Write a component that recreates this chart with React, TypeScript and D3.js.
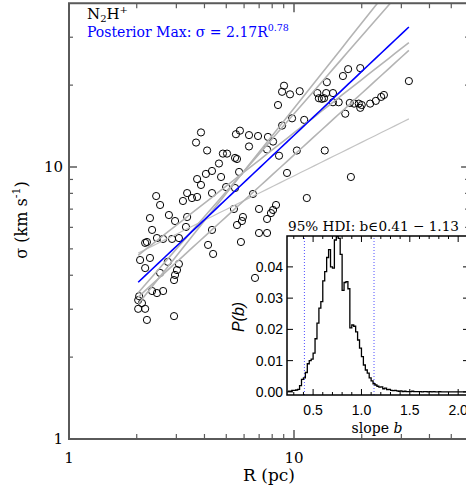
import React from 'react';
import * as d3 from 'd3';

const R_PC = [32.4,19.7,17.4,16.5,14.0,9.03,8.85,9.60,10.6,12.7,13.9,14.9,12.9,13.3,13.6,14.9,15.8,8.49,17.7,18.5,19.4,20.0,19.7,21.8,23.1,24.4,25.1,16.9,9.80,11.1,8.85,5.75,5.52,6.31,6.92,7.66,8.07,6.31,7.59,5.47,5.58,8.58,10.3,13.7,5.70,9.31,17.9,5.47,6.57,11.4,5.41,6.99,8.32,8.07,7.90,5.93,5.87,7.59,5.58,3.86,3.67,4.11,4.83,5.04,4.64,4.32,4.06,3.71,3.86,4.74,4.32,4.99,2.44,3.35,3.71,3.52,3.21,2.54,2.29,2.78,2.96,3.35,2.34,3.31,2.46,2.62,2.87,3.08,2.18,2.22,4.32,5.81,4.15,4.37,2.07,2.29,2.18,2.54,3.08,3.02,2.96,2.93,2.75,2.34,2.46,2.62,2.05,2.03,2.11,2.03,2.18,2.22,2.93,6.71,6.99,7.59];
const SIGMA = [20.7,23.1,22.9,21.6,20.5,19.9,18.9,18.5,19.0,18.7,18.7,18.7,17.9,17.8,17.9,17.3,17.3,16.9,17.2,17.1,17.1,16.9,16.5,17.1,17.5,18.1,18.4,15.7,15.1,14.9,14.2,13.6,13.2,13.1,13.0,12.9,12.4,11.9,11.6,10.8,10.7,11.0,11.5,11.5,9.59,9.51,9.19,8.37,7.96,7.69,7.01,7.01,7.25,6.95,6.77,6.55,6.33,6.44,6.12,13.4,12.3,11.5,11.2,11.2,10.3,9.67,9.43,9.03,8.59,9.19,8.02,8.44,7.82,8.02,7.76,7.69,7.50,7.25,6.49,6.66,6.33,6.55,5.87,6.02,5.48,5.44,5.44,5.48,5.26,5.30,5.87,5.30,5.17,4.79,4.55,4.63,4.25,4.08,4.40,4.18,4.01,3.84,4.48,3.50,3.44,3.50,3.35,3.24,3.16,3.01,3.01,2.74,2.83,3.91,5.72,5.72];

const FIT_A = 2.17;
const FIT_B = 0.78;
const SAMPLE_A = [3.61, 1.95, 1.50, 1.76, 2.99];
const SAMPLE_B = [0.41, 0.754, 1.04, 0.95, 0.65];

const HIST_START = 0.24;
const HIST_WIDTH = 0.02;
const HIST_P = [0.0002,0.0002,0.0005,0.0005,0.0006,0.0008,0.0020,0.0040,0.0045,0.0062,0.0090,0.0100,0.0105,0.0124,0.0170,0.0220,0.0268,0.0289,0.0355,0.0385,0.0430,0.0455,0.0400,0.0396,0.0486,0.0497,0.0491,0.0440,0.0325,0.0350,0.0353,0.0330,0.0205,0.0214,0.0210,0.0192,0.0166,0.0140,0.0113,0.0086,0.0070,0.0060,0.0045,0.0035,0.0026,0.0022,0.0018,0.0015,0.0016,0.0010,0.0012,0.0007,0.0008,0.0005,0.0004,0.0005,0.0003,0.0002,0.0003,0.0001,0.0002,0.0001,0.0001,0.0001,0.0002,0.0001,0.0001,0.0001,0.0001,0.0000,0.0001,0.0001,0.0000,0.0001,0.0000,0.0001,0.0000,0.0000,0.0001,0.0000];
const HDI = [0.41, 1.13];

const X_MAJOR = [1, 10];
const X_MINOR = [2,3,4,5,6,7,8,9,20,30,40,50];
const Y_MAJOR = [1, 10];
const Y_MINOR = [2,3,4,5,6,7,8,9,20,30];
const INSET_X_TICKS = [0.5, 1.0, 1.5, 2.0];
const INSET_Y_TICKS = [0, 0.01, 0.02, 0.03, 0.04];

const SERIF = '"DejaVu Serif", serif';
const SANS = '"Liberation Sans", Arial, sans-serif';

export default function App() {
  const W = 466, H = 491;
  const L = 69, B = 439;
  const x = d3.scaleLog().domain([1, 60]).range([L, L + 225 * Math.log10(60)]);
  const y = d3.scaleLog().domain([1, 40]).range([B, B - 272 * Math.log10(40)]);
  const [x0, x1] = x.range();
  const [y0, y1] = y.range();
  const axisColor = '#5a5a5a';

  const [rMin, rMax] = d3.extent(R_PC) as [number, number];
  const rs = d3.range(0, 41).map(i => rMin * Math.pow(rMax / rMin, i / 40));
  const line = d3.line<[number, number]>().x(d => x(d[0])).y(d => y(d[1]));
  const powerPath = (a: number, b: number) => line(rs.map(r => [r, a * Math.pow(r, b)] as [number, number])) || '';

  // inset
  const iL = 287, iR = 469, iT = 236, iB = 395;
  const xi = d3.scaleLinear().domain([0.23, 0.23 + (iR - iL) / 96.7]).range([iL, iR]);
  const yi = d3.scaleLinear().domain([-0.001, 0.05]).range([iB, iB - 0.051 * 3125]);
  const histPts: [number, number][] = HIST_P.map((p, i) => [HIST_START + i * HIST_WIDTH, p]);
  const histEnd = HIST_START + HIST_P.length * HIST_WIDTH;
  histPts.push([histEnd, 0]);
  histPts.push([xi.domain()[1], 0]);
  const histPath = d3.line<[number, number]>().x(d => xi(d[0])).y(d => yi(d[1])).curve(d3.curveStepAfter)(histPts) || '';
  const insetMinor = d3.range(3, 22).map(v => v / 10).filter(v => INSET_X_TICKS.every(t => Math.abs(t - v) > 1e-6));

  const n = Math.min(R_PC.length, SIGMA.length);

  return (
    <svg width={W} height={H} style={{ position: 'absolute', left: 0, top: 0, background: '#fff' }}>
      <defs>
        <clipPath id="plotClip"><rect x={x0} y={y1} width={x1 - x0} height={y0 - y1} /></clipPath>
      </defs>
      {/* points */}
      <g>
        {d3.range(n).map(i => (
          <circle key={i} cx={x(R_PC[i])} cy={y(SIGMA[i])} r={3.6} fill="none" stroke="#000" strokeWidth={1} />
        ))}
      </g>
      {/* sample lines */}
      <g clipPath="url(#plotClip)">
        {SAMPLE_A.map((a, i) => (
          <path key={i} d={powerPath(a, SAMPLE_B[i])} fill="none" stroke={i === 0 ? '#c4c4c4' : '#b4b4b4'} strokeWidth={i === 0 ? 1.2 : 1.6} />
        ))}
        <path d={powerPath(FIT_A, FIT_B)} fill="none" stroke="#0000ff" strokeWidth={1.6} />
      </g>
      {/* main frame */}
      <g stroke={axisColor} fill="none">
        <rect x={x0} y={y1} width={x1 - x0} height={y0 - y1} strokeWidth={2} />
        {X_MAJOR.map(v => (
          <g key={'xm' + v} strokeWidth={1.5}>
            <line x1={x(v)} x2={x(v)} y1={y0} y2={y0 - 9} />
            <line x1={x(v)} x2={x(v)} y1={y1} y2={y1 + 9} />
          </g>
        ))}
        {X_MINOR.map(v => (
          <g key={'xn' + v} strokeWidth={1.2}>
            <line x1={x(v)} x2={x(v)} y1={y0} y2={y0 - 5} />
            <line x1={x(v)} x2={x(v)} y1={y1} y2={y1 + 5} />
          </g>
        ))}
        {Y_MAJOR.map(v => (
          <g key={'ym' + v} strokeWidth={1.5}>
            <line x1={x0} x2={x0 + 8} y1={y(v)} y2={y(v)} />
            <line x1={x1} x2={x1 - 8} y1={y(v)} y2={y(v)} />
          </g>
        ))}
        {Y_MINOR.map(v => (
          <g key={'yn' + v} strokeWidth={1.2}>
            <line x1={x0} x2={x0 + 4} y1={y(v)} y2={y(v)} />
            <line x1={x1} x2={x1 - 4} y1={y(v)} y2={y(v)} />
          </g>
        ))}
      </g>
      {/* tick labels */}
      <g fontFamily={SERIF} fontSize={15} fill="#000">
        {X_MAJOR.map(v => (
          <text key={'xl' + v} x={x(v)} y={463} textAnchor="middle">{String(v)}</text>
        ))}
        {Y_MAJOR.map(v => (
          <text key={'yl' + v} x={63} y={y(v) + 5} textAnchor="end">{String(v)}</text>
        ))}
      </g>
      <text x={269} y={481} textAnchor="middle" fontFamily={SERIF} fontSize={17}>R (pc)</text>
      <text transform="translate(27,220) rotate(-90)" textAnchor="middle" fontFamily={SERIF} fontSize={16}>
        σ (km s<tspan fontSize={11} dy={-7}>-1</tspan><tspan dy={7}>)</tspan>
      </text>
      {/* legend texts */}
      <text x={87} y={19} fontFamily={SERIF} fontSize={15} fill="#000">
        N<tspan fontSize={10} dy={3}>2</tspan><tspan dy={-3}>H</tspan><tspan fontSize={10} dy={-6}>+</tspan>
      </text>
      <text x={87} y={37} fontFamily={SERIF} fontSize={14} fill="#0000ff">
        Posterior Max: σ = 2.17R<tspan fontSize={9.5} dy={-6}>0.78</tspan>
      </text>
      {/* inset */}
      <rect x={iL} y={iT} width={iR - iL} height={iB - iT} fill="#fff" stroke="none" />
      {HDI.map(v => (
        <line key={'hdi' + v} x1={xi(v)} x2={xi(v)} y1={iB} y2={iT} stroke="#5050ff" strokeWidth={1} strokeDasharray="1,2" />
      ))}
      <path d={histPath} fill="none" stroke="#000" strokeWidth={1.3} />
      <g stroke="#000" fill="none">
        <rect x={iL} y={iT} width={iR - iL} height={iB - iT} strokeWidth={1.5} />
        {INSET_X_TICKS.map(v => (
          <g key={'ixt' + v} strokeWidth={1}>
            <line x1={xi(v)} x2={xi(v)} y1={iB} y2={iB - 6} />
            <line x1={xi(v)} x2={xi(v)} y1={iT} y2={iT + 6} />
          </g>
        ))}
        {insetMinor.map(v => (
          <g key={'ixm' + v} strokeWidth={1}>
            <line x1={xi(v)} x2={xi(v)} y1={iB} y2={iB - 3} />
            <line x1={xi(v)} x2={xi(v)} y1={iT} y2={iT + 3} />
          </g>
        ))}
        {INSET_Y_TICKS.map(v => (
          <g key={'iyt' + v} strokeWidth={1}>
            <line x1={iL} x2={iL + 6} y1={yi(v)} y2={yi(v)} />
            <line x1={iR} x2={iR - 6} y1={yi(v)} y2={yi(v)} />
          </g>
        ))}
      </g>
      <g fontFamily={SANS} fontSize={14} fill="#000">
        {INSET_Y_TICKS.map(v => (
          <text key={'iyl' + v} x={283} y={yi(v) + 5} textAnchor="end">{v.toFixed(2)}</text>
        ))}
        {INSET_X_TICKS.map(v => (
          <text key={'ixl' + v} x={xi(v)} y={415} textAnchor="middle">{v.toFixed(1)}</text>
        ))}
      </g>
      <text transform="translate(244,317) rotate(-90)" textAnchor="middle" fontFamily={SANS} fontSize={16} fontStyle="italic">
        P(b)
      </text>
      <text x={377} y={433} textAnchor="middle" fontFamily={SERIF} fontSize={14}>
        slope <tspan fontStyle="italic">b</tspan>
      </text>
      <text x={288} y={231} fontFamily={SERIF} fontSize={13.5} textLength={171} lengthAdjust="spacingAndGlyphs">
        95% HDI: b∈0.41 − 1.13
      </text>
    </svg>
  );
}
